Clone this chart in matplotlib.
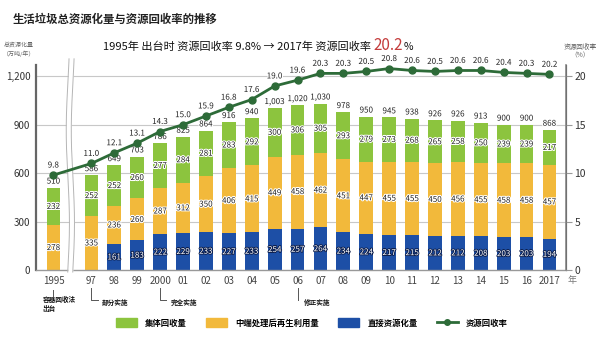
import numpy as np
import matplotlib.pyplot as plt
from matplotlib import patheffects as pe
from matplotlib.patches import Patch
from matplotlib.lines import Line2D
from matplotlib.transforms import blended_transform_factory

plt.rcParams['font.family'] = ['Noto Sans CJK SC', 'DejaVu Sans']

# 数据 (万吨/年, %)
years = ['1995', '97', '98', '99', '2000', '01', '02', '03', '04', '05', '06',
         '07', '08', '09', '10', '11', '12', '13', '14', '15', '16', '2017']
direct = [0, 0, 161, 183, 222, 229, 233, 227, 233, 254, 257, 264, 234, 224,
          217, 215, 212, 212, 208, 203, 203, 194]
middle = [278, 335, 236, 260, 287, 312, 350, 406, 415, 449, 458, 462, 451, 447,
          455, 455, 450, 456, 455, 458, 458, 457]
group = [232, 252, 252, 260, 277, 284, 281, 283, 292, 300, 306, 305, 293, 279,
         273, 268, 265, 258, 250, 239, 239, 217]
totals = [510, 586, 649, 703, 786, 825, 864, 916, 940, 1003, 1020, 1030, 978,
          950, 945, 938, 926, 926, 913, 900, 900, 868]
rate = [9.8, 11.0, 12.1, 13.1, 14.3, 15.0, 15.9, 16.8, 17.6, 19.0, 19.6, 20.3,
        20.3, 20.5, 20.8, 20.6, 20.5, 20.6, 20.6, 20.4, 20.3, 20.2]

c_green = '#8cc43e'
c_yellow = '#f2b93b'
c_blue = '#1d4fa6'
c_line = '#2d6b38'

# 1995 与 97 之间有断开
x = np.array([0.0] + [1.66 + i for i in range(len(years) - 1)])

fig = plt.figure(figsize=(6, 3.38), dpi=100)
ax = fig.add_axes([0.06, 0.2012, 0.8833, 0.6065])
ax2 = ax.twinx()

ymax = 1270
ax.set_ylim(0, ymax)
ax2.set_ylim(0, ymax / 60)
ax.set_xlim(-0.76, 22.38)

for g in [300, 600, 900, 1200]:
    ax.axhline(g, color='#c8c8c8', lw=0.8, zorder=0)

w = 0.6
direct_a = np.array(direct)
middle_a = np.array(middle)
group_a = np.array(group)
ax.bar(x, direct_a, w, color=c_blue, zorder=2)
ax.bar(x, middle_a, w, bottom=direct_a, color=c_yellow, zorder=2)
ax.bar(x, group_a, w, bottom=direct_a + middle_a, color=c_green, zorder=2)

halo = [pe.withStroke(linewidth=1.5, foreground='white')]
dark = [pe.withStroke(linewidth=1.3, foreground='#0d1f4d')]
for i in range(len(years)):
    if direct[i] > 0:
        ax.text(x[i], direct[i] / 2, str(direct[i]), ha='center', va='center',
                fontsize=5.8, color='white', path_effects=dark, zorder=4)
    ax.text(x[i], direct[i] + middle[i] / 2, str(middle[i]), ha='center', va='center',
            fontsize=5.8, color='#222222', path_effects=halo, zorder=4)
    ax.text(x[i], direct[i] + middle[i] + group[i] / 2, str(group[i]), ha='center',
            va='center', fontsize=5.8, color='#222222', path_effects=halo, zorder=4)
    ax.annotate(f'{totals[i]:,}', (x[i], direct[i] + middle[i] + group[i]),
                xytext=(0, 1.5), textcoords='offset points', ha='center', va='bottom',
                fontsize=5.8, color='#222222', path_effects=halo, zorder=4)

ax2.plot(x, rate, color=c_line, lw=2, marker='o', markersize=5, zorder=5)
for i in range(len(years)):
    ax2.annotate(f'{rate[i]:.1f}', (x[i], rate[i]), xytext=(0, 4),
                 textcoords='offset points', ha='center', va='bottom',
                 fontsize=5.8, color='#222222', path_effects=halo, zorder=6)

# 断开符号
trans = blended_transform_factory(ax.transData, ax.transAxes)
t = np.linspace(-0.01, 1.03, 200)
wav = 0.07 * np.sin(t * 2 * np.pi * 1.1)
xb = 0.74
ax.fill_betweenx(t, xb - 0.11 + wav, xb + 0.11 + wav, color='white',
                 transform=trans, zorder=3, clip_on=False, lw=0)
ax.plot(xb - 0.11 + wav, t, color='#b5b5b5', lw=0.7, transform=trans, zorder=3, clip_on=False)
ax.plot(xb + 0.11 + wav, t, color='#b5b5b5', lw=0.7, transform=trans, zorder=3, clip_on=False)
ax.set_zorder(ax2.get_zorder() - 1)
ax.patch.set_visible(False)
ax2.set_zorder(1)

# 坐标轴
ax.set_xticks(x)
ax.set_xticklabels(years, fontsize=7, color='#444444')
ax.set_yticks([0, 300, 600, 900, 1200])
ax.set_yticklabels(['0', '300', '600', '900', '1,200'], fontsize=7, color='#333333')
ax.tick_params(axis='both', length=0, pad=4)
ax2.set_yticks([0, 5, 10, 15, 20])
ax2.set_yticklabels(['0', '5', '10', '15', '20'], fontsize=7.5, color='#333333')
ax2.tick_params(axis='y', length=4, color='#999999', pad=2)
for a in (ax, ax2):
    a.spines['top'].set_visible(False)
ax.spines['left'].set_color('#666666')
ax.spines['left'].set_linewidth(1.6)
ax.spines['bottom'].set_color('#999999')
ax.spines['bottom'].set_linewidth(1.0)
ax2.spines['right'].set_color('#888888')
ax2.spines['right'].set_linewidth(1.2)
ax2.spines['left'].set_visible(False)
ax2.spines['bottom'].set_visible(False)

fig.text(568 / 600, 1 - 281 / 338, '年', fontsize=6.5, color='#777777', va='center')
fig.text(19 / 600, 1 - 45 / 338, '总资源化量', fontsize=4.3, color='#666666', ha='center', va='center')
fig.text(19 / 600, 1 - 54 / 338, '（万吨/年）', fontsize=4.3, color='#666666', ha='center', va='center')
fig.text(580 / 600, 1 - 47 / 338, '资源回收率', fontsize=4.8, color='#666666', ha='center', va='center')
fig.text(580 / 600, 1 - 55 / 338, '（%）', fontsize=4.8, color='#666666', ha='center', va='center')

# 标题
fig.text(13 / 600, 1 - 19 / 338, '生活垃圾总资源化量与资源回收率的推移', fontsize=8.2,
         fontweight='bold', color='#222222', va='center')
fig.canvas.draw()
renderer = fig.canvas.get_renderer()
t1 = fig.text(103 / 600, 1 - 47 / 338, '1995年 出台时 资源回收率 9.8% → 2017年 资源回收率',
              fontsize=8, color='#111111', ha='left', va='center')
x1 = t1.get_window_extent(renderer).x1
t2 = fig.text((x1 + 2) / 600, 1 - 46 / 338, '20.2', fontsize=11, color='#c43c3c',
              ha='left', va='center')
x2 = t2.get_window_extent(renderer).x1
fig.text((x2 + 1) / 600, 1 - 47 / 338, '%', fontsize=7.5, color='#111111', ha='left', va='center')

# 法规注释
def yf(p):
    return (270 - p) / 205

ax.plot([0, 0], [yf(290), yf(296)], color='#555555', lw=0.7, transform=trans, clip_on=False)
ax.text(-0.46, yf(304), '容器回收法\n出台', fontsize=4.8, fontweight='bold', va='center',
        ha='left', transform=trans, linespacing=1.3, color='#111111')
for xi, label in [(x[1], '部分实施'), (x[4], '完全实施')]:
    ax.plot([xi - 0.02, xi - 0.02, xi + 0.27], [yf(288), yf(300), yf(300)], color='#555555',
            lw=0.7, transform=trans, clip_on=False)
    ax.text(xi + 0.45, yf(303), label, fontsize=4.8, fontweight='bold', va='center',
            ha='left', transform=trans, color='#111111')
ax.plot([x[10], x[10]], [yf(288), yf(300)], color='#555555', lw=0.7, transform=trans, clip_on=False)
ax.text(x[10] + 0.28, yf(303), '修正实施', fontsize=4.8, fontweight='bold', va='center',
        ha='left', transform=trans, color='#111111')

# 图例
handles = [Patch(color=c_green), Patch(color=c_yellow), Patch(color=c_blue),
           Line2D([], [], color=c_line, lw=2, marker='o', markersize=4)]
labels = ['集体回收量', '中端处理后再生利用量', '直接资源化量', '资源回收率']
fig.legend(handles, labels, loc='center', bbox_to_anchor=(0.52, 1 - 323 / 338), ncol=4,
           frameon=False, prop={'size': 6, 'weight': 'bold'}, handlelength=2.5,
           handleheight=1.2, handletextpad=1.0, columnspacing=2.3)

plt.savefig('out.png', dpi=100)
